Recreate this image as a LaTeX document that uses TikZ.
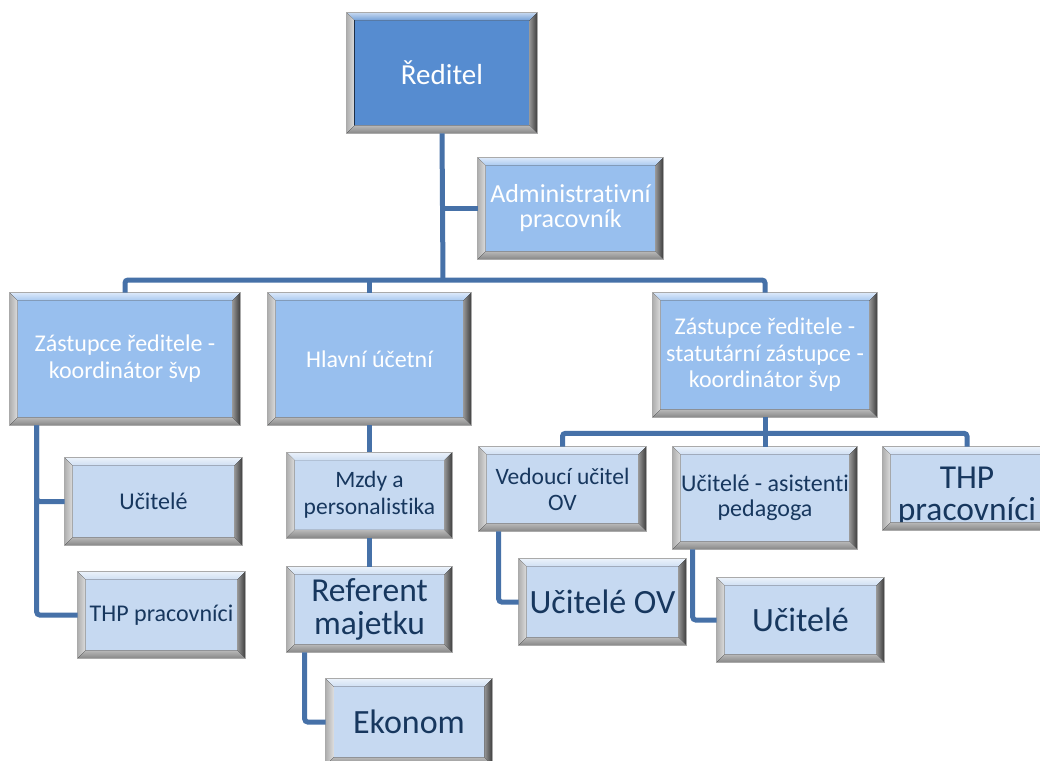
\documentclass[tikz,border=0pt]{standalone}
\usepackage{fontspec}
\setmainfont{Carlito}[Ligatures=NoCommon]
\usetikzlibrary{calc}
\definecolor{cDark}{RGB}{86,140,208}
\definecolor{cMid}{RGB}{152,191,238}
\definecolor{cLight}{RGB}{198,217,241}
\definecolor{cText}{RGB}{23,55,94}
\definecolor{cLine}{RGB}{70,113,168}
\definecolor{bevOut}{RGB}{170,170,170}
\definecolor{bevLa}{RGB}{175,175,175}
\definecolor{bevLb}{RGB}{222,222,222}
\definecolor{bevRa}{RGB}{60,60,60}
\definecolor{bevRb}{RGB}{150,150,150}
\definecolor{bevBa}{RGB}{135,135,135}
\definecolor{bevBb}{RGB}{185,185,185}
\tikzset{
  boxbase/.style={rectangle, inner sep=0pt, align=center, draw=bevOut, line width=0.6pt},
  lvlA/.style={boxbase, fill=cDark, text=white},
  lvlB/.style={boxbase, fill=cMid, text=white},
  lvlC/.style={boxbase, fill=cLight, text=cText},
  fs/.style args={#1/#2}{font=\fontsize{#1}{#2}\selectfont},
  conn/.style={draw=cLine, line width=5pt, rounded corners=3pt},
}
\newcommand\bev[2]{%
  \path (#1.north west) coordinate (b1) (#1.north east) coordinate (b2)
        (#1.south east) coordinate (b3) (#1.south west) coordinate (b4)
        ($(#1.north west)+(8pt,-8pt)$) coordinate (i1)
        ($(#1.north east)+(-8pt,-8pt)$) coordinate (i2)
        ($(#1.south east)+(-8pt,8pt)$) coordinate (i3)
        ($(#1.south west)+(8pt,8pt)$) coordinate (i4);
  \fill[top color=#2!35!white, bottom color=#2!85!white] (b1)--(b2)--(i2)--(i1)--cycle;
  \fill[left color=bevLa, right color=bevLb] (b1)--(i1)--(i4)--(b4)--cycle;
  \fill[left color=bevRb, right color=bevRa] (b2)--(b3)--(i3)--(i2)--cycle;
  \fill[top color=bevBb, bottom color=bevBa] (b4)--(i4)--(i3)--(b3)--cycle;
  \draw[bevOut, line width=0.6pt] (b1) rectangle (b3);
}
\begin{document}
\begin{tikzpicture}[x=1pt,y=-1pt]
\clip (0,0) rectangle (1040,760);
\fill[white] (0,0) rectangle (1040,760);
% nodes
\node[lvlA, fs=29/31, minimum width=190pt, minimum height=120pt] (dir) at (442,73) {Ředitel};
\node[lvlB, fs=26/25, minimum width=185pt, minimum height=101pt] (adm) at (570.5,208.5) {Administrativní\\pracovník};
\node[lvlB, fs=24/27, minimum width=230pt, minimum height=132pt] (zl) at (125,359) {Zástupce ředitele -\\koordinátor švp};
\node[lvlB, fs=24/25, minimum width=203pt, minimum height=132pt] (hu) at (369.5,359) {Hlavní účetní};
\node[lvlB, fs=24/26.5, minimum width=224pt, minimum height=124pt] (zr) at (765,355) {Zástupce ředitele -\\statutární zástupce -\\koordinátor švp};
\node[lvlC, fs=24/25, minimum width=177pt, minimum height=87pt] (ul) at (153.5,501.5) {Učitelé};
\node[lvlC, fs=24/25, minimum width=167pt, minimum height=86pt] (thl) at (161.5,615) {THP pracovníci};
\node[lvlC, fs=23.5/27, minimum width=165pt, minimum height=85pt] (mz) at (369.5,495) {Mzdy a\\personalistika};
\node[lvlC, fs=33.5/33, minimum width=165pt, minimum height=85pt] (rm) at (369.5,609.5) {Referent\\majetku};
\node[lvlC, fs=34/34, minimum width=166pt, minimum height=86pt] (ek) at (409,722) {Ekonom};
\node[lvlC, fs=23.5/26, minimum width=167pt, minimum height=84pt] (vu) at (562.5,489) {Vedoucí učitel\\OV};
\node[lvlC, fs=24/25, minimum width=184pt, minimum height=102pt] (ua) at (765,498) {Učitelé - asistenti\\pedagoga};
\node[lvlC, minimum width=168pt, minimum height=83pt,
      label={[fs=33.5/32, text=cText, align=center, yshift=-8pt]center:{THP\\pracovníci}}] (thr) at (967,488.5) {};
\node[lvlC, fs=34/34, minimum width=167pt, minimum height=86pt] (uov) at (602.5,602) {Učitelé OV};
\node[lvlC, fs=34/34, minimum width=167pt, minimum height=84pt] (ur) at (800.5,620) {Učitelé};
% bevels
\bev{dir}{cDark}
\bev{adm}{cMid}
\bev{zl}{cMid}
\bev{hu}{cMid}
\bev{zr}{cMid}
\bev{ul}{cLight}
\bev{thl}{cLight}
\bev{mz}{cLight}
\bev{rm}{cLight}
\bev{ek}{cLight}
\bev{vu}{cLight}
\bev{ua}{cLight}
\bev{thr}{cLight}
\bev{uov}{cLight}
\bev{ur}{cLight}
% connectors
\coordinate (bar) at (443,280);
\draw[conn] (dir.south) -- (bar);
\draw[conn] (adm.west) -- (adm.west -| dir.south);
\draw[conn] (zl.north) |- (bar) -| (zr.north);
\draw[conn] (hu.north) -- (hu.north |- bar);
\draw[conn] ($(zl.south west)+(27pt,0)$) |- (ul.west);
\draw[conn] ($(zl.south west)+(27pt,0)$) |- (thl.west);
\draw[conn] (hu.south) -- (mz.north);
\draw[conn] (mz.south) -- (rm.north);
\draw[conn] ($(rm.south west)+(18pt,0)$) |- (ek.west);
\draw[conn] (vu.north) |- ($(zr.south)+(0,-16pt)$) -| (thr.north);
\draw[conn] (zr.south) -- (ua.north);
\draw[conn] ($(vu.south west)+(20pt,0)$) |- (uov.west);
\draw[conn] ($(ua.south west)+(20pt,0)$) |- (ur.west);
\end{tikzpicture}
\end{document}
